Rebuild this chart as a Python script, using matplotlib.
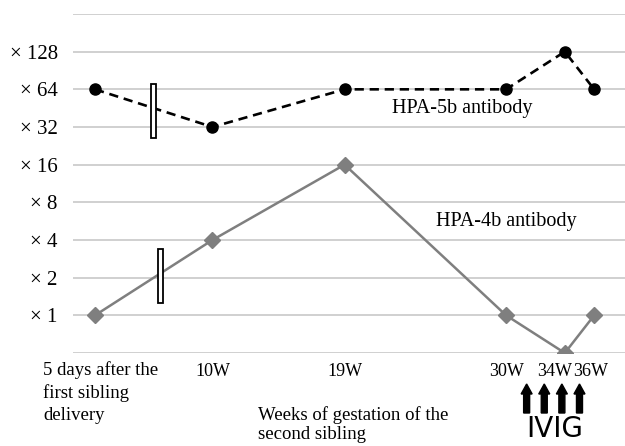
"""
HPA-4b / HPA-5b antibody titres across the two pregnancies.
Log2 titre axis, with break markers between the first sibling and 10W.
"""

import numpy as np
import matplotlib
matplotlib.use("Agg")
import matplotlib.pyplot as plt
import matplotlib.transforms as mtransforms
from matplotlib.patches import Rectangle, FancyArrow

# ── Data ─────────────────────────────────────────────────────
X_POS       = [2, 10, 19, 30, 34, 36]          # weeks (first point is "5 days after")
X_LABELS    = ["", "10W", "19W", "30W", "34W", "36W"]
HPA5B_TITRE = [64, 32, 64, 64, 128, 64]
HPA4B_TITRE = [1, 4, 16, 1, 0.5, 1]
Y_TICKS     = [1, 2, 4, 8, 16, 32, 64, 128]
IVIG_WEEKS  = [31.4, 32.6, 33.8, 35.0]

# ── Style ────────────────────────────────────────────────────
plt.rcParams.update({
    "font.family": ["Liberation Serif", "DejaVu Serif"],
    "font.size":   13.5,
})
GRID_C = "#c8c8c8"
GRAY   = "#7f7f7f"

fig = plt.figure(figsize=(6.25, 4.46), dpi=100)
ax = fig.add_axes([73 / 625, 1 - 353 / 446, 1 - 73 / 625, (353 - 14) / 446])

ax.set_yscale("log", base=2)
ax.set_ylim(0.5, 256)
ax.set_xlim(0.5, 38.1)

# horizontal grid at every doubling, including 0.5 and 256
for v in [0.5] + Y_TICKS + [256]:
    ax.axhline(v, color=GRID_C, linewidth=1.2, zorder=0)

for s in ax.spines.values():
    s.set_visible(False)
ax.tick_params(length=0)

ax.set_yticks(Y_TICKS)
ax.set_yticklabels([f"× {t}" for t in Y_TICKS], fontsize=15)
ax.tick_params(axis="y", pad=11)
ax.minorticks_off()

ax.set_xticks(X_POS)
ax.set_xticklabels(X_LABELS, fontsize=13)
ax.tick_params(axis="x", pad=7)

# crowded labels at 34W / 36W: nudge them apart like the original
shifts = {4: -10, 5: -4}
for i, lab in enumerate(ax.get_xticklabels()):
    if i in shifts:
        off = mtransforms.ScaledTranslation(shifts[i] / 100, 0, fig.dpi_scale_trans)
        lab.set_transform(lab.get_transform() + off)

# ── Series ───────────────────────────────────────────────────
ax.plot(X_POS, HPA5B_TITRE, color="black", linestyle=(0, (3.5, 2.2)),
        linewidth=1.9, marker="o", markersize=8, zorder=3)
ax.plot(X_POS, HPA4B_TITRE, color=GRAY, linewidth=1.8,
        marker="D", markersize=8.5, zorder=3)

ax.text(22.2, 45, "HPA-5b antibody", fontsize=14.5, va="center")
ax.text(25.2, 5.6, "HPA-4b antibody", fontsize=14.5, va="center")

# ── Break markers ────────────────────────────────────────────
for (xc, yc) in [(153, 111), (160, 276)]:
    bx = (xc - 2.5) / 625
    by = 1 - (yc + 27) / 446
    r = Rectangle((bx, by), 5 / 625, 54 / 446, transform=fig.transFigure,
                  facecolor="white", edgecolor="black", linewidth=1.3,
                  zorder=10)
    fig.patches.append(r)

# ── Bottom annotations ───────────────────────────────────────
fig.text(43 / 625, 1 - 361 / 446, "5 days after the\nfirst sibling\ndelivery",
         fontsize=13.5, va="top", ha="left", linespacing=1.38)
fig.text(258 / 625, 1 - 406 / 446, "Weeks of gestation of the\nsecond sibling",
         fontsize=13.5, va="top", ha="left", linespacing=1.2)

for w in IVIG_WEEKS:
    xf = ax.transData.transform((w, 1))[0] / fig.bbox.width
    fig.patches.append(FancyArrow(xf, 1 - 413 / 446, 0, 29 / 446,
                                  width=6 / 625, head_width=11 / 625,
                                  head_length=10 / 446, length_includes_head=True,
                                  transform=fig.transFigure,
                                  color="black"))
fig.text(555 / 625, 1 - 429 / 446, "IVIG", fontsize=20,
         family=["Liberation Sans Narrow", "DejaVu Sans"],
         ha="center", va="center")

fig.savefig("out.png", dpi=100)
